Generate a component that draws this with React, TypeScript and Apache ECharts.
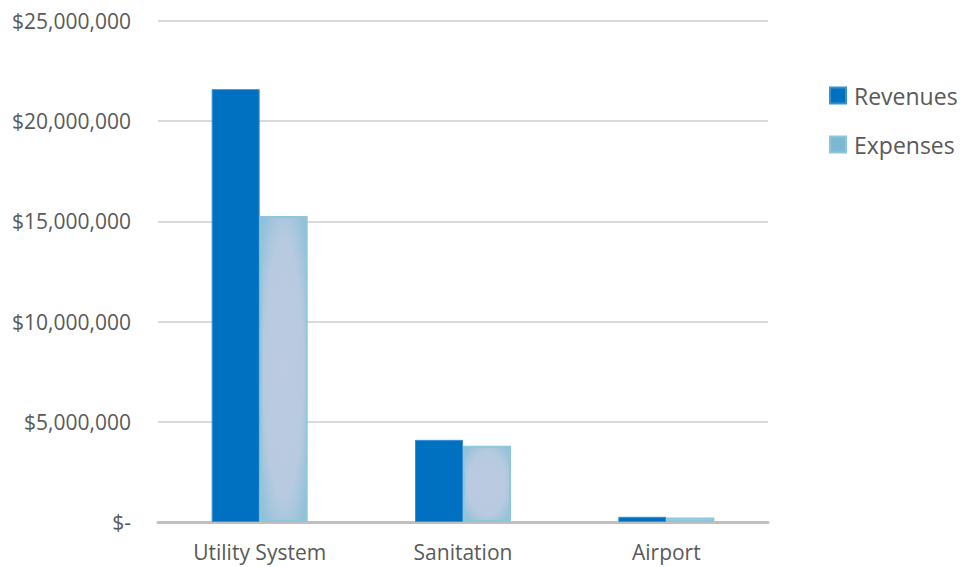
import React, { useEffect, useRef } from "react";
import * as echarts from "echarts";

const categories = ["Utility System", "Sanitation", "Airport"];
const revenues = [21600000, 4100000, 260000];
const expenses = [15270000, 3800000, 220000];
const seriesNames = ["Revenues", "Expenses"];

const fmt = (v: number) => {
  if (v === 0) return "$-";
  return "$" + v.toLocaleString("en-US");
};

export default function App() {
  const ref = useRef<HTMLDivElement>(null);
  useEffect(() => {
    const chart = echarts.init(ref.current!, null, { renderer: "svg" });
    const font = "'Open Sans', 'Noto Sans', sans-serif";
    chart.setOption({
      animation: false,
      textStyle: { fontFamily: font },
      grid: { left: 158, right: 196, top: 21, bottom: 45, containLabel: false },
      legend: {
        orient: "vertical",
        left: 824,
        top: 79,
        itemWidth: 16,
        itemHeight: 16,
        itemGap: 26,
        icon: "rect",
        textStyle: { fontSize: 23, color: "#595959", fontFamily: font, padding: [0, 0, 0, 3] },
        data: [
          { name: seriesNames[0], itemStyle: { color: "#0070c0" } },
          { name: seriesNames[1], itemStyle: { color: "#7ab8d3" } },
        ],
      },
      xAxis: {
        type: "category",
        data: categories,
        axisLine: { lineStyle: { color: "#bfbfbf", width: 3 } },
        axisTick: { show: false },
        axisLabel: { fontSize: 21, color: "#595959", margin: 19, fontFamily: font },
      },
      yAxis: {
        type: "value",
        min: 0,
        max: 25000000,
        interval: 5000000,
        axisLine: { show: false },
        axisTick: { show: false },
        splitLine: { lineStyle: { color: "#d9d9d9", width: 2 } },
        axisLabel: { fontSize: 21, color: "#595959", margin: 27, formatter: fmt, fontFamily: font },
      },
      series: [
        {
          name: seriesNames[0],
          type: "bar",
          data: revenues,
          barWidth: 48,
          barGap: "0%",
          itemStyle: { color: "#0070c0", borderColor: "#3a8fd0", borderWidth: 1 },
        },
        {
          name: seriesNames[1],
          type: "bar",
          data: expenses,
          barWidth: 48,
          itemStyle: {
            color: new echarts.graphic.RadialGradient(0.5, 0.5, 0.7, [
              { offset: 0, color: "#bccae2" },
              { offset: 0.6, color: "#b8cae0" },
              { offset: 1, color: "#88c0d8" },
            ]),
            borderColor: "#8ec6dc",
            borderWidth: 2,
          },
        },
      ],
    });
    return () => chart.dispose();
  }, []);
  return <div ref={ref} style={{ width: 964, height: 567, position: "absolute", left: 0, top: 0 }} />;
}
